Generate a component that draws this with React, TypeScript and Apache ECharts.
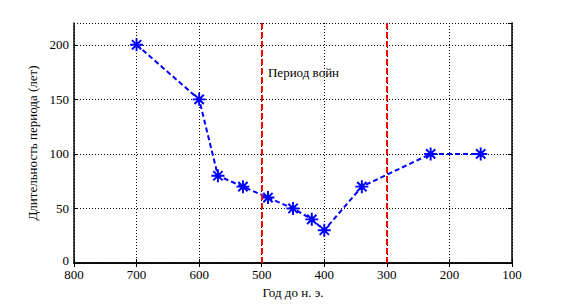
import React, { useEffect, useRef } from "react";
import * as echarts from "echarts";

const years = [700, 600, 570, 530, 490, 450, 420, 400, 340, 230, 150];
const durations = [200, 150, 80, 70, 60, 50, 40, 30, 70, 100, 100];
const warBounds = [500, 300];
const xTicks = [800, 700, 600, 500, 400, 300, 200, 100];
const yTicks = [0, 50, 100, 150, 200];
const annotation = { x: 490, y: 175, text: "Период войн" };

const FONT = "Liberation Serif";
const ASTERISK =
  "path://M0 8.5H20V11.5H0Z M8.5 0H11.5V20H8.5Z M3.9 1.8L18.2 16.1L16.1 18.2L1.8 3.9Z M16.1 1.8L18.2 3.9L3.9 18.2L1.8 16.1Z";

export default function App() {
  const ref = useRef<HTMLDivElement>(null);
  useEffect(() => {
    if (!ref.current) return;
    const chart = echarts.init(ref.current, undefined, { renderer: "svg" });
    const axisLine = { show: true, lineStyle: { color: "#000", width: 1.5 } };
    const tick = { show: true, inside: true, length: 4, lineStyle: { color: "#000" } };
    const split = { show: true, lineStyle: { color: "#000", type: [1, 2] as any, width: 1 } };
    const lab = { fontFamily: FONT, fontSize: 13, color: "#000" };
    chart.setOption({
      animation: false,
      backgroundColor: "#fff",
      grid: { left: 74, right: 56, top: 23, bottom: 41, containLabel: false },
      xAxis: [
        {
          type: "value",
          inverse: true,
          min: xTicks[xTicks.length - 1],
          max: xTicks[0],
          interval: 100,
          position: "bottom",
          axisLine,
          axisTick: tick,
          splitLine: split,
          axisLabel: { ...lab, margin: 5 },
          name: "Год до н. э.",
          nameLocation: "middle",
          nameGap: 23,
          nameTextStyle: { fontFamily: FONT, fontSize: 13, color: "#000" },
        },
        {
          type: "value",
          inverse: true,
          min: xTicks[xTicks.length - 1],
          max: xTicks[0],
          interval: 100,
          position: "top",
          axisLine,
          axisTick: tick,
          splitLine: { show: false },
          axisLabel: { show: false },
        },
      ],
      yAxis: [
        {
          type: "value",
          min: yTicks[0],
          max: 220,
          interval: 50,
          position: "left",
          axisLine,
          axisTick: tick,
          splitLine: split,
          axisLabel: {
            ...lab,
            margin: 5,
            showMaxLabel: false,
            formatter: (v: number) => (v === yTicks[0] ? "{z|" + v + "}" : String(v)),
            rich: { z: { fontFamily: FONT, fontSize: 13, color: "#000", padding: [0, 0, 6, 0] } },
          },
          name: "Длительность периода (лет)",
          nameLocation: "middle",
          nameGap: 33,
          nameTextStyle: { fontFamily: FONT, fontSize: 13, color: "#000" },
        },
        {
          type: "value",
          min: yTicks[0],
          max: 220,
          interval: 50,
          position: "right",
          axisLine,
          axisTick: tick,
          splitLine: { show: false },
          axisLabel: { show: false },
        },
      ],
      series: [
        {
          type: "line",
          data: years.map((y, i) => [y, durations[i]]),
          xAxisIndex: 0,
          yAxisIndex: 0,
          symbol: ASTERISK,
          symbolSize: 13,
          itemStyle: { color: "#0000ff" },
          lineStyle: { color: "#0000ff", width: 2, type: [5, 3] },
          markLine: {
            silent: true,
            symbol: ["none", "none"],
            label: { show: false },
            lineStyle: { color: "#ff0000", width: 2, type: [6, 3] },
            data: warBounds.map((v) => ({ xAxis: v })),
          },
          markPoint: {
            silent: true,
            symbol: "circle",
            symbolSize: 0,
            data: [
              {
                coord: [annotation.x, annotation.y],
                label: {
                  show: true,
                  formatter: annotation.text,
                  position: "right",
                  distance: 0,
                  fontFamily: FONT,
                  fontSize: 13,
                  color: "#000",
                },
              },
            ],
          },
        },
      ],
    });
    return () => chart.dispose();
  }, []);
  return <div ref={ref} style={{ width: 568, height: 304, position: "absolute", left: 0, top: 0 }} />;
}
